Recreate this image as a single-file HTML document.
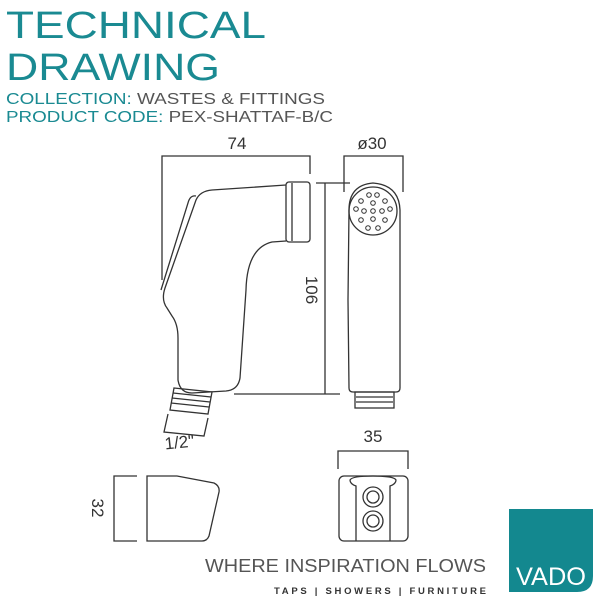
<!DOCTYPE html>
<html><head><meta charset="utf-8"><style>html,body{margin:0;padding:0;background:#fff}svg{display:block}</style></head>
<body>
<svg width="600" height="600" viewBox="0 0 600 600" xmlns="http://www.w3.org/2000/svg" font-family="Liberation Sans, sans-serif">
<g fill="#1a8a92">
<text x="6" y="38" font-size="38" textLength="260" lengthAdjust="spacingAndGlyphs">TECHNICAL</text>
<text x="6" y="80" font-size="38" textLength="214" lengthAdjust="spacingAndGlyphs">DRAWING</text>
<text x="6" y="104" font-size="16" textLength="319" lengthAdjust="spacingAndGlyphs">COLLECTION: <tspan fill="#555">WASTES &amp; FITTINGS</tspan></text>
<text x="6" y="122" font-size="16" textLength="327" lengthAdjust="spacingAndGlyphs">PRODUCT CODE: <tspan fill="#555">PEX-SHATTAF-B/C</tspan></text>
</g>
<g fill="none" stroke="#333" stroke-width="1.3">
<!-- 74 dim -->
<polyline points="162,280 162,156 310,156 310,174"/>
<!-- side view -->
<rect x="286" y="182" width="24" height="60" rx="3"/>
<line x1="292" y1="183" x2="292" y2="241"/>
<path d="M286,185 L212,190 Q200,191 196,200 L165,288 Q161,300 167,308 L172,316 Q178,324 178,338 L178,380 Q180,393 192,393 L226,391 Q238,390 240,378 L246,290 Q247,248 272,242 L286,241"/>
<path d="M196,196 Q190,195 188,203 L161,290"/>
<path d="M174,388 L212,392 L208,414 L170,410 Z"/>
<line x1="173" y1="393" x2="211" y2="397"/><line x1="172" y1="398" x2="210" y2="402"/><line x1="171" y1="403" x2="209" y2="407"/>
<polyline points="168,414 164,432 204,436 208,418"/>
<!-- 106 dim -->
<line x1="316" y1="183" x2="350" y2="183"/>
<line x1="325" y1="183" x2="325" y2="394"/>
<line x1="234" y1="394" x2="340" y2="394"/>
<!-- ø30 dim -->
<polyline points="344,192 344,156 403,156 403,192"/>
<!-- front view -->
<path d="M349,210 Q349,185 373,183 Q399,185 400,210 L400,300 L400,388 Q400,392 396,392 L353,392 Q349,392 349,388 L348,300 Z"/>
<circle cx="373" cy="211" r="24"/>
<rect x="355" y="392" width="39" height="16"/>
<line x1="356" y1="397" x2="393" y2="397"/><line x1="356" y1="402" x2="393" y2="402"/>
<!-- 32 dim -->
<polyline points="137,476 114,476 114,541 137,541"/>
<path d="M147,476 L177,476 L214,483 Q220,486 219,492 L209,536 Q207,541 202,541 L147,541 Z"/>
<!-- 35 dim -->
<polyline points="338,469 338,451 408,451 408,469"/>
<rect x="339" y="476" width="69" height="65" rx="5"/>
<path d="M356,541 L356,486 Q350,484 350,480 Q352,476 373,476 Q394,476 396,480 Q396,484 390,486 L390,541"/>
<circle cx="373" cy="497" r="10"/><circle cx="373" cy="497" r="6"/>
<circle cx="373" cy="521" r="10"/><circle cx="373" cy="521" r="6"/>
</g>
<g fill="none" stroke="#333" stroke-width="1">
<circle cx="361" cy="201" r="2.3"/><circle cx="369" cy="195" r="2.3"/><circle cx="377" cy="195" r="2.3"/><circle cx="385" cy="201" r="2.3"/>
<circle cx="356" cy="209" r="2.3"/><circle cx="364" cy="211" r="2.3"/><circle cx="373" cy="203" r="2.3"/><circle cx="373" cy="211" r="2.3"/><circle cx="382" cy="211" r="2.3"/><circle cx="390" cy="209" r="2.3"/>
<circle cx="361" cy="220" r="2.3"/><circle cx="373" cy="219" r="2.3"/><circle cx="385" cy="220" r="2.3"/>
<circle cx="368" cy="228" r="2.3"/><circle cx="378" cy="228" r="2.3"/>
</g>
<g fill="#333" font-size="17">
<text x="237" y="149" text-anchor="middle">74</text>
<text x="372" y="149" text-anchor="middle">ø30</text>
<text x="373" y="442" text-anchor="middle">35</text>
<text x="180" y="448" text-anchor="middle" transform="rotate(-6 180 448)">1/2"</text>
<text transform="translate(306,290) rotate(90)" text-anchor="middle">106</text>
<text transform="translate(92,508) rotate(90)" text-anchor="middle">32</text>
</g>
<text x="205" y="572" font-size="18" fill="#555" textLength="281" lengthAdjust="spacingAndGlyphs">WHERE INSPIRATION FLOWS</text>
<text x="274" y="594" font-size="9.5" font-weight="bold" fill="#333" textLength="212" lengthAdjust="spacing">TAPS | SHOWERS | FURNITURE</text>
<path d="M509,509 L593,509 L593,576 Q593,592 577,592 L509,592 Z" fill="#13888f"/>
<text x="551" y="585" font-size="25" fill="#fff" text-anchor="middle" textLength="70" lengthAdjust="spacingAndGlyphs">VADO</text>
</svg>
</body></html>
